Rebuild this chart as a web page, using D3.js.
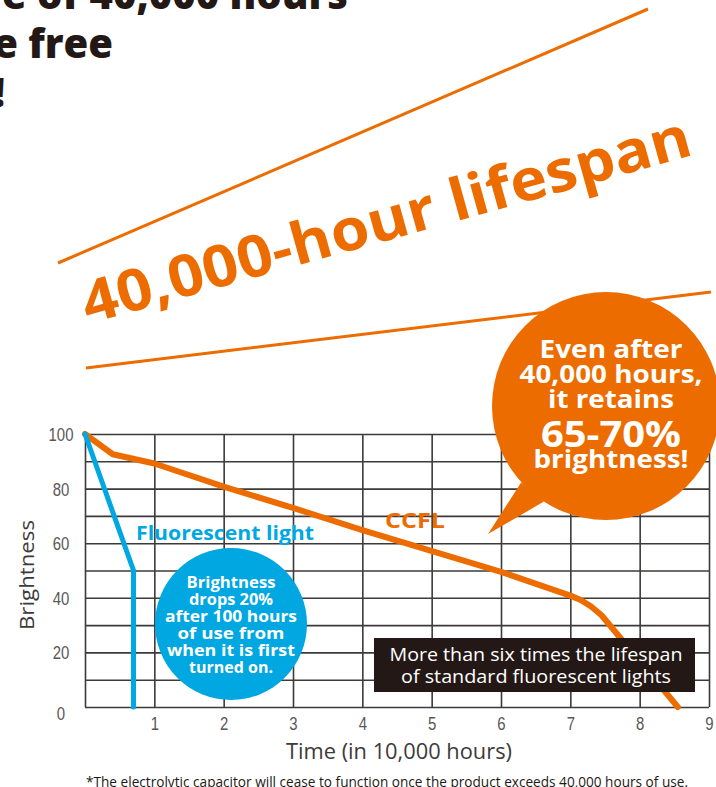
<!DOCTYPE html>
<html lang="en">
<head>
<meta charset="UTF-8">
<title>CCFL vs fluorescent light brightness</title>
<script src="https://d3js.org/d3.v7.min.js"></script>
<style>
  body { margin: 0; background: #fff; }
  svg { display: block; }
  .tick-label { font-family: "Liberation Sans", "DejaVu Sans", sans-serif; font-size: 18px; fill: #595757; }
  .bold { font-family: "Open Sans", "Noto Sans", sans-serif; font-weight: 700; }
  .reg { font-family: "Open Sans", "Noto Sans", sans-serif; font-weight: 400; }
</style>
</head>
<body>
<svg id="chart" width="716" height="787"></svg>
<script>
  // values (x in 10,000 hours, y brightness %)
  const xTicks = [1, 2, 3, 4, 5, 6, 7, 8, 9]
  const yTicks = [0, 20, 40, 60, 80, 100]
  const gridX = d3.range(0, 10)
  const gridY = d3.range(0, 101, 10)
  const ccfl = [[0, 100], [0.4, 92.6], [1, 89.2], [2, 80.7], [3, 72.9], [4, 64.8], [6, 49.5],
                [7, 40.8], [7.15, 39.2], [7.3, 36.8], [7.45, 33.6], [8.55, 0]]
  const fluorescent = [[0, 100], [0.7, 50], [0.7, 0]]

  const headline = ["A long life of 40,000 hours", "Maintenance free", "Eco-friendly!"]
  const blueNote = ["Brightness", "drops 20%", "after 100 hours", "of use from", "when it is first", "turned on."]
  const orangeNote = ["Even after", "40,000 hours,", "it retains", "65-70%", "brightness!"]
  const boxNote = ["More than six times the lifespan", "of standard fluorescent lights"]

  const orange = "#ec6c00", blue = "#00a7e1", dark = "#231815", grid = "#3e3a39"

  const svg = d3.select("#chart")

  const x = d3.scaleLinear().domain([0, 9]).range([85, 709])
  const y = d3.scaleLinear().domain([0, 100]).range([707, 434])

  // headline, cut off by the frame like the original
  const hl = svg.append("g").attr("class", "bold").style("font-weight", 800)
    .attr("fill", dark).attr("font-size", 40).attr("text-anchor", "end")
  hl.append("text").attr("x", 348).attr("y", 9).text(headline[0])
  hl.append("text").attr("x", 113).attr("y", 58).text(headline[1])
  hl.append("text").attr("x", 5).attr("y", 107).text(headline[2])

  // slanted banner
  svg.append("line").attr("x1", 58).attr("y1", 263).attr("x2", 648).attr("y2", 9)
    .attr("stroke", orange).attr("stroke-width", 3)
  svg.append("line").attr("x1", 86).attr("y1", 368).attr("x2", 711).attr("y2", 292)
    .attr("stroke", orange).attr("stroke-width", 3)
  svg.append("text").attr("class", "bold")
    .attr("transform", "translate(88,324) rotate(-15.6)")
    .attr("font-size", 58).attr("fill", orange)
    .attr("textLength", 630).attr("lengthAdjust", "spacingAndGlyphs")
    .text("40,000-hour lifespan")

  // grid
  const gGrid = svg.append("g")
  gGrid.append("g").attr("transform", "translate(0,707)")
    .call(d3.axisBottom(x).tickValues(gridX).tickSize(-(707 - 434)).tickFormat(""))
  gGrid.append("g").attr("transform", "translate(85,0)")
    .call(d3.axisLeft(y).tickValues(gridY).tickSize(-(709 - 85)).tickFormat(""))
  gGrid.selectAll(".domain").remove()
  gGrid.selectAll("line").attr("stroke", grid).attr("stroke-width", 1.6)

  // tick labels (narrow digits like the original)
  const xa = svg.append("g").attr("transform", "translate(0,707)")
    .call(d3.axisBottom(x).tickValues(xTicks).tickSize(0).tickPadding(10))
  const ya = svg.append("g").attr("transform", "translate(61,0)")
    .call(d3.axisLeft(y).tickValues(yTicks).tickSize(0).tickPadding(0))
  ;[xa, ya].forEach(a => {
    a.select(".domain").remove()
    a.selectAll("text").attr("class", "tick-label").attr("fill", null)
      .attr("textLength", d => String(d).length * 8.3).attr("lengthAdjust", "spacingAndGlyphs")
  })
  ya.selectAll("text").attr("text-anchor", "middle").attr("dy", "0.36em")
  ya.selectAll(".tick").filter(d => d === 0).select("text").attr("dy", "0.7em")

  svg.append("text").attr("class", "reg").attr("x", 399).attr("y", 759)
    .attr("text-anchor", "middle").attr("font-size", 21).attr("fill", grid)
    .attr("textLength", 226).attr("lengthAdjust", "spacingAndGlyphs")
    .text("Time (in 10,000 hours)")
  svg.append("text").attr("class", "reg")
    .attr("transform", "translate(34,575) rotate(-90)")
    .attr("text-anchor", "middle").attr("font-size", 20).attr("fill", grid)
    .attr("textLength", 110).attr("lengthAdjust", "spacingAndGlyphs")
    .text("Brightness")
  svg.append("text").attr("class", "reg").attr("x", 86).attr("y", 787)
    .attr("font-size", 14).attr("fill", dark)
    .attr("textLength", 602).attr("lengthAdjust", "spacingAndGlyphs")
    .text("*The electrolytic capacitor will cease to function once the product exceeds 40,000 hours of use.")

  // series
  svg.append("path").datum(ccfl)
    .attr("d", d3.line().x(d => x(d[0])).y(d => y(d[1])))
    .attr("fill", "none").attr("stroke", orange).attr("stroke-width", 6)
    .attr("stroke-linecap", "round").attr("stroke-linejoin", "round")
  svg.append("path").datum(fluorescent)
    .attr("d", d3.line().x(d => x(d[0])).y(d => y(d[1])))
    .attr("fill", "none").attr("stroke", blue).attr("stroke-width", 5)
    .attr("stroke-linecap", "round").attr("stroke-linejoin", "round")

  svg.append("text").attr("class", "bold").attr("x", 385).attr("y", 528)
    .attr("font-size", 22).attr("fill", orange)
    .attr("textLength", 60).attr("lengthAdjust", "spacingAndGlyphs").text("CCFL")
  svg.append("text").attr("class", "bold").attr("x", 136).attr("y", 540)
    .attr("font-size", 20).attr("fill", blue)
    .attr("textLength", 178).attr("lengthAdjust", "spacingAndGlyphs").text("Fluorescent light")

  // blue note
  svg.append("circle").attr("cx", 231).attr("cy", 624).attr("r", 76).attr("fill", blue)
  const bLen = [89, 84, 132, 107, 128, 84]
  svg.append("g").attr("class", "bold").attr("fill", "#fff").attr("font-size", 16)
    .attr("text-anchor", "middle")
    .selectAll("text").data(blueNote).join("text")
    .attr("x", 231).attr("y", (d, i) => 588 + i * 17)
    .attr("textLength", (d, i) => bLen[i]).attr("lengthAdjust", "spacingAndGlyphs")
    .text(d => d)

  // orange speech bubble
  const bx = 606, by = 406, br = 114
  const pt = a => [bx + br * Math.cos(a * Math.PI / 180), by + br * Math.sin(a * Math.PI / 180)]
  svg.append("path")
    .attr("d", "M" + pt(138) + "L488,534L" + pt(123) + "Z")
    .attr("fill", orange)
  svg.append("circle").attr("cx", bx).attr("cy", by).attr("r", br).attr("fill", orange)
  const oSizes = [25, 25, 25, 36, 25]
  const oBase = [358, 383, 408, 447, 468]
  const oLen = [143, 183, 126, 140, 155]
  svg.append("g").attr("class", "bold").attr("fill", "#fff").attr("text-anchor", "middle")
    .selectAll("text").data(orangeNote).join("text")
    .attr("x", 611).attr("y", (d, i) => oBase[i]).attr("font-size", (d, i) => oSizes[i])
    .attr("textLength", (d, i) => oLen[i]).attr("lengthAdjust", "spacingAndGlyphs")
    .text(d => d)

  // dark box
  svg.append("rect").attr("x", 374).attr("y", 638).attr("width", 321).attr("height", 54).attr("fill", dark)
  const kLen = [293, 270]
  svg.append("g").attr("class", "reg").attr("fill", "#fff").attr("font-size", 18)
    .attr("text-anchor", "middle")
    .selectAll("text").data(boxNote).join("text")
    .attr("x", 536).attr("y", (d, i) => 661 + i * 22)
    .attr("textLength", (d, i) => kLen[i]).attr("lengthAdjust", "spacingAndGlyphs")
    .text(d => d)
</script>
</body>
</html>
